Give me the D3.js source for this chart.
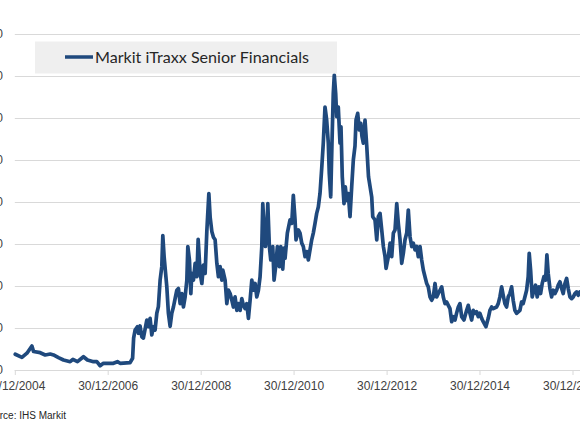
<!DOCTYPE html>
<html>
<head>
<meta charset="utf-8">
<script src="https://cdn.jsdelivr.net/npm/d3@7"></script>
<style>
  html, body { margin: 0; padding: 0; background: #ffffff; overflow: hidden; }
  svg { display: block; }
</style>
</head>
<body>
<svg id="chart" width="580" height="435"></svg>
<script>
// ---------- DATA ----------
const seriesName = "Markit iTraxx Senior Financials";
const sourceText = "Source: IHS Markit";

// observation dates as decimal years
const dates = [
  2005.004, 2005.148, 2005.256, 2005.363, 2005.398, 2005.542, 2005.649, 2005.757, 2005.828, 2005.935,
  2006.043, 2006.187, 2006.245, 2006.344, 2006.473, 2006.559, 2006.688, 2006.761, 2006.832, 2006.903,
  2007.118, 2007.204, 2007.262, 2007.477, 2007.531, 2007.553, 2007.585, 2007.634, 2007.656, 2007.692,
  2007.729, 2007.763, 2007.837, 2007.871, 2007.908, 2007.944, 2007.978, 2008.015, 2008.052, 2008.086,
  2008.123, 2008.159, 2008.181, 2008.209, 2008.241, 2008.267, 2008.301, 2008.338, 2008.374, 2008.409,
  2008.445, 2008.482, 2008.516, 2008.553, 2008.589, 2008.624, 2008.660, 2008.697, 2008.718, 2008.753,
  2008.783, 2008.804, 2008.839, 2008.875, 2008.912, 2008.940, 2008.983, 2009.019, 2009.054, 2009.090,
  2009.127, 2009.170, 2009.198, 2009.234, 2009.269, 2009.305, 2009.342, 2009.376, 2009.413, 2009.449,
  2009.471, 2009.520, 2009.557, 2009.591, 2009.628, 2009.665, 2009.699, 2009.735, 2009.772, 2009.806,
  2009.843, 2009.880, 2009.914, 2009.951, 2009.987, 2010.022, 2010.058, 2010.095, 2010.129, 2010.166,
  2010.202, 2010.237, 2010.273, 2010.310, 2010.331, 2010.359, 2010.387, 2010.417, 2010.439, 2010.473,
  2010.503, 2010.546, 2010.574, 2010.617, 2010.645, 2010.688, 2010.718, 2010.761, 2010.789, 2010.811,
  2010.860, 2010.918, 2010.955, 2010.989, 2011.026, 2011.047, 2011.097, 2011.133, 2011.170, 2011.204,
  2011.241, 2011.277, 2011.312, 2011.348, 2011.385, 2011.419, 2011.456, 2011.492, 2011.527, 2011.563,
  2011.600, 2011.634, 2011.671, 2011.707, 2011.742, 2011.763, 2011.794, 2011.821, 2011.849, 2011.871,
  2011.901, 2011.923, 2011.957, 2011.994, 2012.015, 2012.043, 2012.080, 2012.108, 2012.138, 2012.172,
  2012.209, 2012.245, 2012.280, 2012.316, 2012.338, 2012.374, 2012.409, 2012.439, 2012.467, 2012.495,
  2012.531, 2012.568, 2012.606, 2012.675, 2012.697, 2012.746, 2012.783, 2012.817, 2012.854, 2012.890,
  2012.925, 2012.961, 2012.983, 2013.032, 2013.069, 2013.105, 2013.140, 2013.176, 2013.213, 2013.247,
  2013.284, 2013.320, 2013.355, 2013.391, 2013.428, 2013.462, 2013.499, 2013.535, 2013.570, 2013.606,
  2013.643, 2013.677, 2013.714, 2013.750, 2013.785, 2013.821, 2013.858, 2013.892, 2013.929, 2013.965,
  2014.000, 2014.037, 2014.073, 2014.108, 2014.144, 2014.181, 2014.215, 2014.252, 2014.288, 2014.323,
  2014.359, 2014.396, 2014.430, 2014.467, 2014.503, 2014.538, 2014.574, 2014.611, 2014.660, 2014.718,
  2014.753, 2014.789, 2014.826, 2014.860, 2014.897, 2014.933, 2014.968, 2015.004, 2015.041, 2015.075,
  2015.133, 2015.183, 2015.219, 2015.256, 2015.290, 2015.363, 2015.398, 2015.434, 2015.471, 2015.505,
  2015.542, 2015.578, 2015.613, 2015.649, 2015.686, 2015.720, 2015.757, 2015.793, 2015.865, 2015.901,
  2015.935, 2015.972, 2016.009, 2016.043, 2016.065, 2016.095, 2016.129, 2016.166, 2016.202, 2016.237,
  2016.273, 2016.310, 2016.344, 2016.381, 2016.417, 2016.445, 2016.473, 2016.510, 2016.546, 2016.581,
  2016.617, 2016.654, 2016.688, 2016.725, 2016.761, 2016.796, 2016.832, 2016.869, 2016.903, 2016.940,
  2016.976, 2017.011, 2017.047, 2017.084, 2017.118, 2017.155, 2017.220
];

// spread values (bp)
const spreads = [
  18.7, 15, 20, 28.6, 22, 20.6, 17.9, 19, 17.9, 14.7,
  11.9, 9.9, 12.7, 9.9, 15.8, 11.9, 9.9, 9.9, 5.1, 8,
  8, 9.9, 8, 8.7, 14, 38, 47.6, 51.5, 43.7, 52.4,
  39.6, 38, 59.5, 51.5, 61.5, 41.7, 51.5, 47.6, 67.5, 75.4,
  107, 123, 160, 135, 115, 99, 67.5, 52, 67.5, 75,
  85, 95, 97, 79, 91, 75, 87, 107, 147, 131,
  91, 115, 107, 127, 111, 155.6, 115, 103, 125, 115,
  166, 210, 182, 165, 158, 155, 127, 111, 123, 107,
  119, 107, 79, 95, 91, 83, 75, 87, 71, 79,
  71, 85, 77, 73, 79, 61.5, 83, 107, 95, 103,
  87, 95, 111, 147, 198, 170.6, 147, 163, 198, 147,
  131, 147, 107, 127, 147, 123, 147, 120, 145, 133,
  163, 178.6, 174.6, 208, 178.6, 155, 166.7, 163, 151, 147,
  135, 141, 131, 143, 155, 163, 174.6, 186.5, 194, 210,
  240, 270, 313, 297.6, 270, 234, 206, 270, 329, 351,
  329, 301.5, 313, 270, 289.6, 230, 198, 218, 202, 210,
  182.5, 218, 250, 266.7, 297.6, 305.5, 285.7, 293.7, 277.7, 270,
  297.6, 266.7, 230, 206, 182.5, 178.6, 155, 182.5, 186.5, 166.7,
  147, 135, 121, 135, 151, 135, 163, 166.7, 198, 174.6,
  155, 127, 139, 155, 163, 190.5, 158.7, 147, 151, 143,
  147, 135, 147, 131, 119, 111, 103, 99, 87, 83,
  87, 103, 87, 91, 95, 99, 87, 79, 81, 77,
  73, 57.5, 63.5, 59.5, 68, 75, 79, 63.5, 59.5, 71,
  77, 67.5, 59.5, 71, 67.5, 69.4, 63.5, 67.5, 61.5, 57.5,
  51.5, 61.5, 71, 75, 73, 75, 79, 87, 99, 89,
  79, 75, 87, 91, 99, 83, 71, 67.5, 71, 81,
  79, 87, 95, 111, 139, 119, 87, 95, 101, 87,
  99, 91, 103, 111, 107, 137, 115, 97, 87, 95,
  91, 95, 101, 105, 97, 91, 103, 109, 97, 87,
  85, 87, 91, 93, 89, 93, 90
];

const yTicks = [0, 50, 100, 150, 200, 250, 300, 350, 400];
const xTickLabels = ["30/12/2004", "30/12/2006", "30/12/2008", "30/12/2010", "30/12/2012", "30/12/2014", "30/12/2016"];

// ---------- HELPERS ----------
function decToDate(t) {
  const y = Math.floor(t);
  const s = Date.UTC(y, 0, 1), e = Date.UTC(y + 1, 0, 1);
  return new Date(s + (t - y) * (e - s));
}
const parseTick = d3.utcParse("%d/%m/%Y");
const fmtTick = d3.utcFormat("%d/%m/%Y");
const xTickDates = xTickLabels.map(parseTick);

const data = dates.map((t, i) => ({ date: decToDate(t), value: spreads[i] }));

// ---------- LAYOUT ----------
const svg = d3.select("#chart");
const plotLeft = 14.8, plotRight = 620, plotTop = 34, plotBottom = 370;

const x = d3.scaleUtc()
  .domain([xTickDates[0], xTickDates[xTickDates.length - 1]])
  .range([plotLeft, 572.5]);
const y = d3.scaleLinear().domain([0, 400]).range([plotBottom, plotTop]);

svg.append("rect").attr("width", 580).attr("height", 435).attr("fill", "#ffffff");

// gridlines
const yAxis = d3.axisLeft(y).tickValues(yTicks).tickSize(-(plotRight - plotLeft)).tickPadding(12).tickFormat(d3.format("d"));
const gy = svg.append("g").attr("transform", `translate(${plotLeft},0)`).call(yAxis);
gy.select(".domain").remove();
gy.selectAll(".tick line").attr("stroke", "#d9d9d9").attr("stroke-width", 1);
gy.selectAll(".tick text")
  .attr("x", 3 - plotLeft)
  .attr("text-anchor", "end")
  .attr("fill", "#404040")
  .style("font-family", "'Liberation Sans', Arial, sans-serif")
  .style("font-size", "12px");

// x axis
const xAxis = d3.axisBottom(x).tickValues(xTickDates).tickFormat(fmtTick).tickSize(5).tickPadding(6).tickSizeOuter(0);
const gx = svg.append("g").attr("transform", `translate(0,${plotBottom})`).call(xAxis);
gx.select(".domain").attr("d", `M${plotLeft},0.5H${plotRight}`).attr("stroke", "#d9d9d9");
gx.selectAll(".tick line").attr("stroke", "#d9d9d9");
gx.selectAll(".tick text")
  .attr("fill", "#404040")
  .style("font-family", "'Liberation Sans', Arial, sans-serif")
  .style("font-size", "12px");

// series line
const line = d3.line().x(d => x(d.date)).y(d => y(d.value)).curve(d3.curveLinear);
svg.append("path")
  .datum(data)
  .attr("d", line)
  .attr("fill", "none")
  .attr("stroke", "#1f497d")
  .attr("stroke-width", 3.7)
  .attr("stroke-linejoin", "round")
  .attr("stroke-linecap", "round");

// legend
const lg = svg.append("g");
lg.append("rect").attr("x", 35).attr("y", 41.5).attr("width", 302).attr("height", 32).attr("fill", "#efefef");
lg.append("line").attr("x1", 65).attr("x2", 93).attr("y1", 57).attr("y2", 57)
  .attr("stroke", "#1f497d").attr("stroke-width", 3.5);
const lt = lg.append("text").attr("x", 95).attr("y", 62.5)
  .attr("fill", "#262626")
  .style("font-family", "Lato, 'Noto Sans', sans-serif")
  .style("font-size", "15px")
  .text(seriesName);
const w = lt.node().getComputedTextLength();
if (w > 0) lt.style("font-size", (15 * 214 / w).toFixed(2) + "px");

// source
svg.append("text").attr("x", -18).attr("y", 419)
  .attr("fill", "#262626")
  .style("font-family", "'Liberation Sans', Arial, sans-serif")
  .style("font-size", "10px")
  .text(sourceText);
</script>
</body>
</html>
